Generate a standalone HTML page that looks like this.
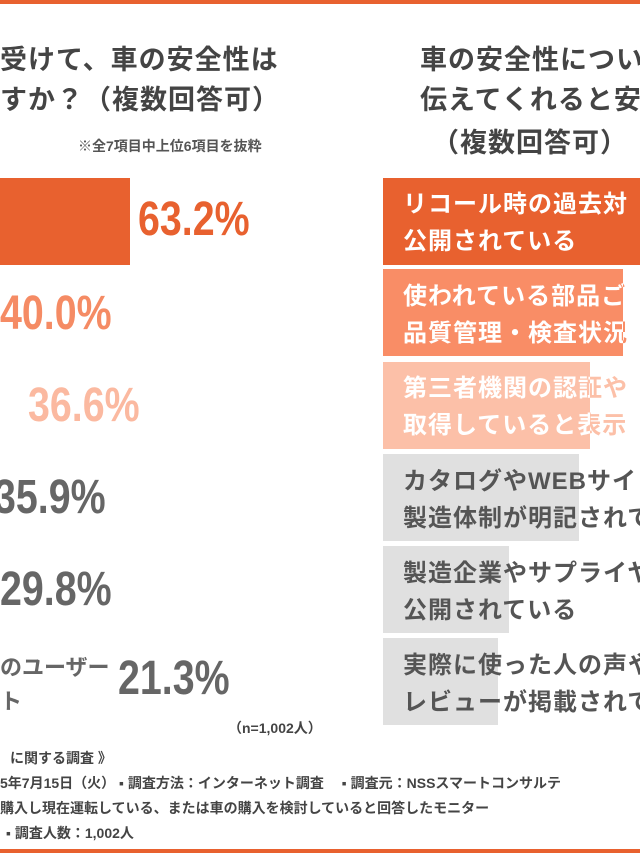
<!DOCTYPE html>
<html><head><meta charset="utf-8"><style>
*{margin:0;padding:0;box-sizing:border-box}
body{width:640px;height:853px;overflow:hidden;background:#fff;position:relative;font-family:"Liberation Sans","Noto Sans CJK JP",sans-serif;color:#444}
.a{position:absolute;white-space:nowrap}
.t{font-size:27px;font-weight:bold;color:#444;letter-spacing:1px}
.p{font-family:"Liberation Sans Narrow","Liberation Sans",sans-serif;font-size:48px;font-weight:bold;transform:scaleX(.82);transform-origin:left top}
.bar{position:absolute;left:383px;height:87px}
.bt{position:absolute;left:403px;font-size:24px;font-weight:bold;line-height:37px;white-space:nowrap;letter-spacing:1px}
.clip{position:absolute;left:383px;overflow:hidden;height:87px}
.clip .bt{left:20px}
.f{font-size:14px;font-weight:bold;color:#444}
</style></head><body>
<div class="a" style="left:0;top:0;width:640px;height:4px;background:#e8612f"></div>
<div class="a" style="left:0;top:849px;width:640px;height:4px;background:#e8612f"></div>

<div class="a t" style="left:0;top:38px">受けて、車の安全性は</div>
<div class="a t" style="left:0;top:78px">すか？（複数回答可）</div>
<div class="a" style="left:78px;top:136px;font-size:14px;font-weight:bold;color:#555">※全7項目中上位6項目を抜粋</div>

<div class="a" style="left:0;top:178px;width:130px;height:87px;background:#e8612f"></div>
<div class="a p" style="left:138px;top:192px;color:#e8612f">63.2%</div>
<div class="a p" style="left:0;top:286px;color:#f58b64">40.0%</div>
<div class="a p" style="left:28px;top:378px;color:#fbb9a0">36.6%</div>
<div class="a p" style="left:-6px;top:470px;color:#666">35.9%</div>
<div class="a p" style="left:0;top:562px;color:#666">29.8%</div>
<div class="a" style="left:0;top:650px;font-size:22px;font-weight:bold;color:#666">のユーザー</div>
<div class="a" style="left:0;top:684px;font-size:22px;font-weight:bold;color:#666">ト</div>
<div class="a p" style="left:118px;top:651px;color:#666">21.3%</div>
<div class="a" style="left:228px;top:718px;font-size:14px;font-weight:bold;color:#444">（n=1,002人）</div>

<div class="a f" style="left:10px;top:748px">に関する調査 》</div>
<div class="a f" style="left:0;top:773px">5年7月15日（火）  ▪ 調査方法：インターネット調査　 ▪ 調査元：NSSスマートコンサルテ</div>
<div class="a f" style="left:0;top:798px">購入し現在運転している、または車の購入を検討していると回答したモニター</div>
<div class="a f" style="left:6px;top:823px">▪ 調査人数：1,002人</div>

<div class="a t" style="left:420px;top:38px">車の安全性につい</div>
<div class="a t" style="left:420px;top:78px">伝えてくれると安</div>
<div class="a t" style="left:432px;top:121px">（複数回答可）</div>

<div class="bar" style="top:178px;width:257px;background:#e8612f"></div>
<div class="bt" style="top:186px;color:#fff">リコール時の過去対<br>公開されている</div>

<div class="bar" style="top:269px;width:240px;background:#f98d66"></div>
<div class="bt" style="top:278px;color:#f98d66">使われている部品ご<br>品質管理・検査状況</div>
<div class="clip" style="top:269px;width:240px"><div class="bt" style="top:9px;color:#fff">使われている部品ご<br>品質管理・検査状況</div></div>

<div class="bar" style="top:362px;width:207px;background:#fcc0a8"></div>
<div class="bt" style="top:370px;color:#fcc0a8">第三者機関の認証や<br>取得していると表示</div>
<div class="clip" style="top:362px;width:207px"><div class="bt" style="top:8px;color:#fff">第三者機関の認証や<br>取得していると表示</div></div>

<div class="bar" style="top:454px;width:196px;background:#e0e0e0"></div>
<div class="bt" style="top:463px;color:#555">カタログやWEBサイト<br>製造体制が明記されて</div>
<div class="bar" style="top:546px;width:126px;background:#e0e0e0"></div>
<div class="bt" style="top:555px;color:#555">製造企業やサプライヤ<br>公開されている</div>
<div class="bar" style="top:638px;width:115px;background:#e0e0e0"></div>
<div class="bt" style="top:647px;color:#555">実際に使った人の声や<br>レビューが掲載されて</div>
</body></html>
